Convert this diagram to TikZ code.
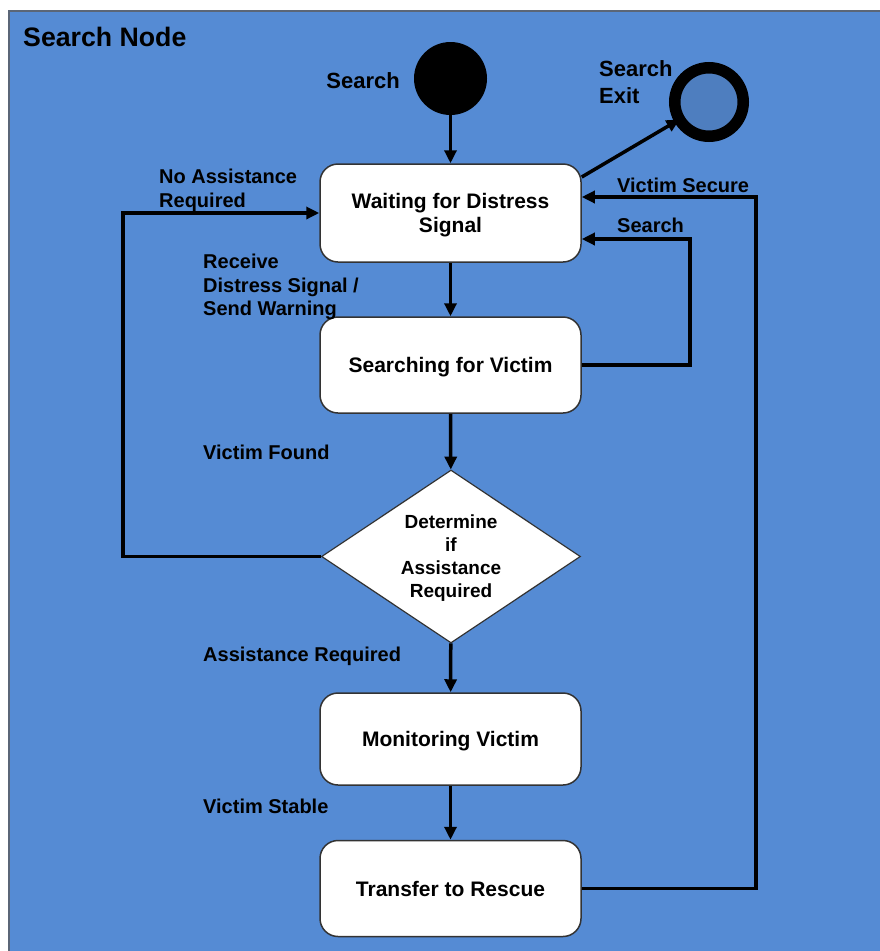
\documentclass[tikz,border=0pt]{standalone}
\usepackage{fontspec}
\setmainfont{Liberation Sans}
\usetikzlibrary{arrows.meta,shapes.geometric}
\definecolor{panelblue}{HTML}{558BD4}
\definecolor{exitblue}{HTML}{4E7EBF}
\definecolor{panelframe}{HTML}{5B6677}
\begin{document}
\begin{tikzpicture}[x=1pt,y=-1pt,
  state/.style={draw=black!80, line width=1.5pt, fill=white, rounded corners=18pt,
    minimum width=261pt, align=center, text depth=0pt,
    font=\bfseries\fontsize{21}{24}\selectfont},
  decision/.style={diamond, draw=black!80, line width=1.2pt, fill=white, aspect=1.5,
    minimum width=259pt, minimum height=173pt, inner sep=1pt, align=center,
    text depth=0pt, font=\bfseries\fontsize{19}{23}\selectfont},
  flow/.style={line width=3.5pt, -{Triangle[length=13pt,width=12pt]}},
  lbl/.style={font=\bfseries\fontsize{20}{23.5}\selectfont, align=left, inner sep=0pt},
  biglbl/.style={font=\bfseries\fontsize{22}{27}\selectfont, align=left, inner sep=0pt},
]
\useasboundingbox (0,0) rectangle (879,951);
\fill[white] (0,0) rectangle (879,951);

% panel (runs past the right and bottom page edges)
\fill[panelblue] (9,11) rectangle (895,965);
\draw[panelframe, line width=2pt] (9,965) -- (9,11) -- (895,11);
\node[font=\bfseries\fontsize{26.7}{30}\selectfont, anchor=base west, inner sep=0pt] (title) at (23,46) {Search Node};

% initial and final states
\node[circle, fill=black, minimum size=73pt, inner sep=0pt] (start) at (450.5,78.5) {};
\node[circle, draw=black, line width=11.5pt, fill=exitblue, minimum size=68.5pt,
  inner sep=0pt, outer sep=0pt] (exit) at (709,102) {};

% states
\node[state, minimum height=98pt] (wait) at (450.5,213) {Waiting for Distress\\Signal};
\node[state, minimum height=96pt] (searching) at (450.5,365) {Searching for Victim};
\node[decision] (decide) at (451,556.5) {Determine\\if\\Assistance\\Required};
\node[state, minimum height=92pt] (monitor) at (450.5,739) {Monitoring Victim};
\node[state, minimum height=96pt] (transfer) at (450.5,888.5) {Transfer to Rescue};

% transitions
\draw[flow] (start) -- (wait);
\draw[flow] (wait) -- (searching);
\draw[flow] (searching) -- (decide);
\draw[flow] (decide) -- (monitor);
\draw[flow] (monitor) -- (transfer);
\draw[flow] ([yshift=36pt]wait.east) -- (exit);
\draw[flow] (transfer.east) -- ++(174,0) |- ([yshift=16pt]wait.east);
\draw[flow] (searching.east) -- ++(108,0) |- ([yshift=-26pt]wait.east);
\draw[flow] (decide.west) -- ++(-198,0) |- (wait.west);

% labels
\node[biglbl, anchor=base east] (lstart) at (400,88) {Search};
\node[biglbl, anchor=north west] (lexit) at (599,60) {Search\\Exit};
\node[lbl, anchor=base west] (lsecure) at (617,192) {Victim Secure};
\node[lbl, anchor=base west] (lsearch) at (617,232) {Search};
\node[lbl, anchor=north west] (lnoassist) at (159,169) {No Assistance\\Required};
\node[lbl, anchor=north west] (lreceive) at (203,254) {Receive\\Distress Signal /\\Send Warning};
\node[lbl, anchor=base west] (lfound) at (203,459) {Victim Found};
\node[lbl, anchor=base west] (lassist) at (203,661) {Assistance Required};
\node[lbl, anchor=base west] (lstable) at (203,813) {Victim Stable};
\end{tikzpicture}
\end{document}
